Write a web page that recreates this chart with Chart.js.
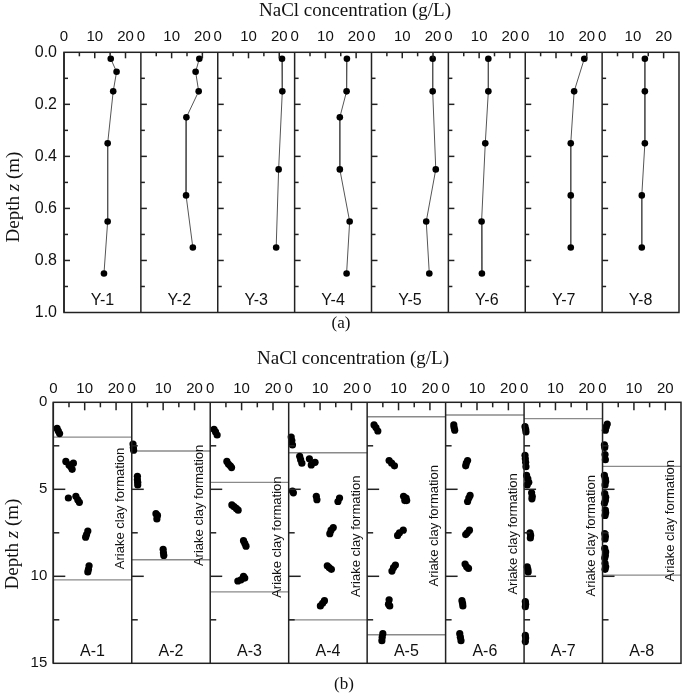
<!DOCTYPE html>
<html><head><meta charset="utf-8">
<script src="https://cdn.jsdelivr.net/npm/chart.js@4/dist/chart.umd.min.js"></script>
<style>
html,body{margin:0;padding:0;background:#fff;}
#wrap{position:relative;width:685px;height:696px;overflow:hidden;background:#fff;}
canvas{position:absolute;left:0;}
</style></head><body>
<div id="wrap">
<canvas id="cTop" width="685" height="340" style="top:0"></canvas>
<canvas id="cBot" width="685" height="356" style="top:340px"></canvas>
</div>
<script>
// ---------- DATA ----------
const xTickLabels = [0, 10, 20];

// (a) near-surface profiles
const topSites = ['Y-1','Y-2','Y-3','Y-4','Y-5','Y-6','Y-7','Y-8'];
const topDepth = [
  [0.025,0.075,0.15,0.35,0.65,0.85],
  [0.025,0.075,0.15,0.25,0.55,0.75],
  [0.025,0.15,0.45,0.75],
  [0.025,0.15,0.25,0.45,0.65,0.85],
  [0.025,0.15,0.45,0.65,0.85],
  [0.025,0.15,0.35,0.65,0.85],
  [0.025,0.15,0.35,0.55,0.75],
  [0.025,0.15,0.35,0.55,0.75]
];
const topConc = [
  [15.2,17.1,16.0,14.2,14.2,13.0],
  [19.0,17.8,18.8,14.8,14.7,16.9],
  [20.9,21.0,19.8,19.0],
  [17.0,16.9,14.7,14.7,17.9,16.9],
  [19.9,19.9,20.9,17.8,18.8],
  [13.0,13.0,12.0,10.8,10.9],
  [19.2,15.9,14.8,14.8,14.8],
  [13.9,13.9,13.9,12.9,12.9]
];

// (b) deep profiles
const botSites = ['A-1','A-2','A-3','A-4','A-5','A-6','A-7','A-8'];
const botConc = [
  [1.2,1.6,2.0, 4.0,5.0,5.6,6.4,6.0, 4.8,7.2,7.8,8.3, 11.0,10.6,10.3, 11.4,11.2,11.0],
  [0.4,0.5,0.6, 1.8,1.8,1.9,1.9, 7.7,8.2,8.0, 10.0,10.1,10.2],
  [1.2,1.7,2.2, 5.3,5.8,6.4,6.8, 6.9,7.6,8.3,8.9, 10.6,11.0,11.4, 8.8,9.8,10.6,11.0],
  [0.8,1.0,1.2, 3.5,3.8,4.2,6.6,7.2,8.4, 1.2,1.5, 8.8,9.0, 16.2,15.7, 14.2,13.5,13.1, 12.3,12.9,13.6, 11.4,10.8,10.1],
  [2.2,2.8,3.4, 7.0,7.8,8.7, 11.6,12.4,12.0,12.6, 9.7,10.3,11.5, 9.0,8.4,7.9, 7.0,6.8,7.2, 5.0,4.8,4.7],
  [2.6,2.7,2.9, 7.0,6.6,6.4, 7.8,7.4,7.0, 7.6,6.9,6.4, 6.2,6.7,7.3, 5.2,5.4,5.5, 4.5,4.7,4.9],
  [0.3,0.5,0.6, 0.3,0.4,0.5,0.6, 0.8,1.2,1.5,1.0, 2.4,2.6,2.5, 1.9,2.1,2.0, 1.0,1.2,1.3, 0.4,0.5,0.4, 0.4,0.5,0.4],
  [1.5,1.2,0.9, 0.6,0.7, 0.8,0.9, 0.6,0.9,1.0,0.8, 0.7,1.0,0.9,0.6, 0.9,1.0,0.8, 0.7,0.9,0.8, 0.7,1.0,0.9,0.7, 0.8,1.0,0.8]
];
const botDepth = [
  [1.5,1.65,1.8, 3.4,3.6,3.7,3.5,3.85, 5.5,5.4,5.6,5.75, 7.4,7.6,7.75, 9.4,9.6,9.75],
  [2.4,2.6,2.75, 4.25,4.45,4.6,4.75, 6.4,6.5,6.7, 8.45,8.65,8.8],
  [1.55,1.7,1.88, 3.4,3.55,3.65,3.75, 5.9,6.0,6.1,6.2, 7.95,8.1,8.27, 10.27,10.2,10.0,10.1],
  [2.0,2.2,2.45, 3.1,3.3,3.5,3.25,3.6,3.45, 5.1,5.2, 5.4,5.6, 5.5,5.7, 7.2,7.35,7.55, 9.4,9.5,9.6, 11.4,11.55,11.7],
  [1.3,1.45,1.65, 3.35,3.5,3.65, 5.4,5.5,5.65,5.65, 7.65,7.5,7.35, 9.35,9.5,9.7, 11.35,11.6,11.7, 13.3,13.5,13.7],
  [1.3,1.45,1.6, 3.35,3.5,3.65, 5.35,5.5,5.7, 7.35,7.5,7.6, 9.3,9.45,9.55, 11.4,11.55,11.7, 13.3,13.5,13.7],
  [1.4,1.55,1.7, 3.05,3.25,3.45,3.7, 4.2,4.4,4.6,4.75, 5.2,5.4,5.55, 7.5,7.65,7.8, 9.45,9.6,9.75, 11.45,11.6,11.75, 13.4,13.55,13.75],
  [1.25,1.4,1.6, 2.45,2.6, 3.0,3.3, 4.2,4.4,4.55,4.75, 5.25,5.45,5.65,5.8, 6.2,6.35,6.5, 7.55,7.7,7.85, 8.4,8.6,8.8,8.95, 9.25,9.45,9.6]
];
const clayTop    = [2.0, 2.8, 4.6, 2.9, 0.83, 0.73, 0.94, 3.68];
const clayBottom = [10.2, 9.05, 10.9, 12.5, 13.36, null, null, 9.93];
const clayLabel = 'Ariake clay formation';

// ---------- RENDERING ----------
const SANS = '"Liberation Sans", Arial, sans-serif';
const SERIF = '"Liberation Serif", "Times New Roman", serif';
const INK = '#111';

const panelPlugin = {
  id: 'panel',
  beforeDatasetsDraw(chart) {
    const o = chart.options.plugins.panel;
    const {ctx, chartArea: ca} = chart;
    const ys = chart.scales.y;
    ctx.save();
    if (o.clay) {
      o.ids.forEach((id, i) => {
        const xs = chart.scales[id];
        ctx.strokeStyle = '#8a8a8a'; ctx.lineWidth = 1.3;
        [o.clay.top[i], o.clay.bottom[i]].forEach(d => {
          if (d == null) return;
          const py = ys.getPixelForValue(d);
          ctx.beginPath(); ctx.moveTo(xs.left, py); ctx.lineTo(xs.right, py); ctx.stroke();
        });
        const b = o.clay.bottom[i] == null ? o.clay.openEnd : o.clay.bottom[i];
        const cy = ys.getPixelForValue((o.clay.top[i] + b) / 2);
        ctx.save();
        ctx.translate(xs.right - o.clay.inset, cy);
        ctx.rotate(-Math.PI / 2);
        ctx.fillStyle = INK; ctx.font = '13px ' + SANS;
        ctx.textAlign = 'center'; ctx.textBaseline = 'middle';
        ctx.fillText(o.clay.text, 0, 0);
        ctx.restore();
      });
    }
    ctx.fillStyle = INK; ctx.font = o.siteFont + 'px ' + SANS;
    ctx.textAlign = 'center'; ctx.textBaseline = 'middle';
    o.ids.forEach((id, i) => {
      const xs = chart.scales[id];
      ctx.fillText(o.sites[i], (xs.left + xs.right) / 2, ca.bottom - o.siteOffset);
    });
    ctx.restore();
  },
  afterDraw(chart) {
    const o = chart.options.plugins.panel;
    const {ctx, chartArea: ca} = chart;
    const ys = chart.scales.y;
    ctx.save();
    ctx.strokeStyle = '#222'; ctx.lineWidth = 1.5;
    o.ids.forEach((id) => {
      const xs = chart.scales[id];
      o.xMinor.forEach(v => {
        const px = xs.getPixelForValue(v);
        const len = (v % o.xMajorStep === 0) ? o.xMajorLen : o.xMinorLen;
        ctx.beginPath(); ctx.moveTo(px, ca.top); ctx.lineTo(px, ca.top + len); ctx.stroke();
      });
      o.yMinor.forEach(v => {
        const py = ys.getPixelForValue(v);
        const isMajor = Math.abs(Math.round(v / o.yMajorStep) * o.yMajorStep - v) < 1e-6;
        const len = isMajor ? o.yMajorLen : o.yMinorLen;
        ctx.beginPath(); ctx.moveTo(xs.left, py); ctx.lineTo(xs.left + len, py); ctx.stroke();
      });
    });
    ctx.strokeRect(ca.left, ca.top, ca.right - ca.left, ca.bottom - ca.top);
    o.ids.forEach(id => {
      const x = chart.scales[id].left;
      ctx.beginPath(); ctx.moveTo(x, ca.top); ctx.lineTo(x, ca.bottom); ctx.stroke();
    });
    ctx.fillStyle = INK;
    ctx.textAlign = 'center'; ctx.textBaseline = 'middle';
    ctx.font = o.titleFont + 'px ' + SERIF;
    ctx.fillText('NaCl concentration (g/L)', o.titleX, o.titleY);
    ctx.font = o.tagFont + 'px ' + SERIF;
    ctx.fillText(o.tag, o.tagX, o.tagY);
    const parts = [['Depth ', ''], ['z', 'italic '], [' (m)', '']];
    let total = 0;
    parts.forEach(p => { ctx.font = p[1] + o.titleFont + 'px ' + SERIF; p.w = ctx.measureText(p[0]).width; total += p.w; });
    ctx.save();
    ctx.translate(o.yTitleX, o.yTitleY);
    ctx.rotate(-Math.PI / 2);
    ctx.textAlign = 'left';
    let x = -total / 2;
    parts.forEach(p => { ctx.font = p[1] + o.titleFont + 'px ' + SERIF; ctx.fillText(p[0], x, 0); x += p.w; });
    ctx.restore();
    ctx.restore();
  }
};

function buildPanel(canvasId, sites, conc, depth, opt) {
  const ids = sites.map((s, i) => 'x' + i);
  const scales = {
    y: {
      type: 'linear', position: 'left', reverse: true, min: 0, max: opt.yMax,
      afterFit: s => { s.width = opt.left; },
      grid: {display: false, drawTicks: false}, border: {display: false},
      ticks: {
        stepSize: opt.yStep, autoSkip: false, padding: opt.yPad, color: INK,
        font: {family: SANS, size: opt.yFont},
        callback: v => {
          const k = Math.round(v / opt.yLabelStep * 1000) / 1000;
          return Number.isInteger(k) ? v.toFixed(opt.yDec) : '';
        }
      }
    }
  };
  // top-position boxes are stacked in reverse insertion order, so insert last site first
  ids.slice().reverse().forEach(id => {
    scales[id] = {
      type: 'linear', position: 'top', stack: 'conc', stackWeight: 1, min: 0, max: 25,
      afterFit: s => { s.height = opt.top; },
      grid: {display: false, drawTicks: false}, border: {display: false},
      ticks: {
        stepSize: 5, autoSkip: false, maxRotation: 0, minRotation: 0, padding: opt.xPad, color: INK,
        font: {family: SANS, size: opt.xFont},
        callback: v => (xTickLabels.includes(v) ? String(v) : '')
      }
    };
  });
  const datasets = sites.map((s, i) => ({
    label: s,
    xAxisID: ids[i], yAxisID: 'y',
    data: conc[i].map((c, j) => ({x: c, y: depth[i][j]})),
    showLine: opt.line,
    borderColor: '#555', borderWidth: 1,
    pointRadius: opt.r, pointBackgroundColor: '#000', pointBorderColor: '#000', pointBorderWidth: 0,
    clip: false
  }));
  const xMinor = [5, 10, 15, 20];
  const yMinor = [];
  for (let v = opt.yMinorStep; v < opt.yMax - 1e-9; v += opt.yMinorStep) yMinor.push(Math.round(v * 1000) / 1000);
  return new Chart(document.getElementById(canvasId), {
    type: 'scatter',
    data: {datasets},
    options: {
      responsive: false, animation: false, devicePixelRatio: 1,
      layout: {padding: {left: 0, top: 0, right: opt.right, bottom: opt.bottom}},
      scales,
      plugins: {
        legend: {display: false}, tooltip: {enabled: false},
        panel: Object.assign({ids, sites, xMinor, yMinor}, opt.panel)
      }
    },
    plugins: [panelPlugin]
  });
}

buildPanel('cTop', topSites, topConc, topDepth, {
  yMax: 1, yStep: 0.1, yLabelStep: 0.2, yDec: 1, yMinorStep: 0.1,
  left: 64, top: 52.3, right: 5.7, bottom: 27.5,
  yPad: 7, yFont: 16, xPad: 6, xFont: 15, line: true, r: 3.3,
  panel: {
    xMajorStep: 10, xMajorLen: 6, xMinorLen: 4,
    yMajorStep: 0.2, yMajorLen: 6, yMinorLen: 4,
    siteFont: 16, siteOffset: 12,
    titleFont: 19, titleX: 355, titleY: 11,
    tagFont: 17, tag: '(a)', tagX: 341, tagY: 324,
    yTitleX: 14, yTitleY: 197
  }
});

buildPanel('cBot', botSites, botConc, botDepth, {
  yMax: 15, yStep: 2.5, yLabelStep: 5, yDec: 0, yMinorStep: 2.5,
  left: 53.3, top: 62.3, right: 1.7, bottom: 32.7,
  yPad: 6, yFont: 15, xPad: 4, xFont: 15, line: false, r: 3.6,
  panel: {
    xMajorStep: 10, xMajorLen: 8, xMinorLen: 5,
    yMajorStep: 5, yMajorLen: 12, yMinorLen: 6,
    siteFont: 16, siteOffset: 12,
    titleFont: 19, titleX: 353, titleY: 19,
    tagFont: 17, tag: '(b)', tagX: 344, tagY: 345,
    yTitleX: 13, yTitleY: 204,
    clay: {top: clayTop, bottom: clayBottom, openEnd: 14.4, inset: 11, text: clayLabel}
  }
});
</script>
</body></html>
